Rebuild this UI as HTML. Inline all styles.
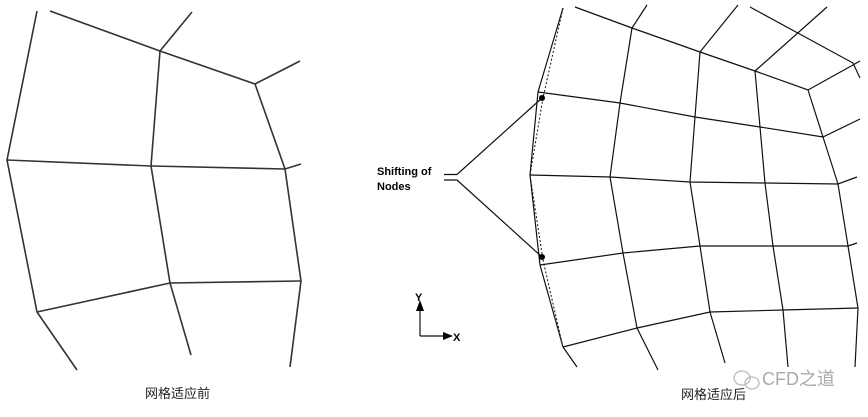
<!DOCTYPE html>
<html><head><meta charset="utf-8"><style>
html,body{margin:0;padding:0;background:#fff;}
svg{display:block}
</style></head><body>
<svg width="868" height="417" viewBox="0 0 868 417" xmlns="http://www.w3.org/2000/svg" font-family="Liberation Sans, Noto Sans CJK SC, sans-serif">
<g stroke="#333" stroke-width="1.6" fill="none">
<polyline points="37,11 7,160 37,312 77,370"/>
<polyline points="50,11 160,51 255,84 300,61"/>
<polyline points="160,51 192,12"/>
<polyline points="160,51 151,166 170,283 191,355"/>
<polyline points="255,84 285,169 301,281 290,367"/>
<polyline points="7,160 151,166 285,169 301,164"/>
<polyline points="37,312 170,283 301,281"/>
</g>
<text x="145" y="398" font-size="13" fill="#222">网格适应前</text>

<g stroke="#111" stroke-width="1.2" fill="none">
<polyline points="563,8 538,92 530,175 540,265 563,347 577,367"/>
<polyline points="575,7 632,28 700,52 755,71 808,90 853,65 860,61"/>
<polyline points="750,7 853,63 860,78"/>
<polyline points="647,5 632,28"/>
<polyline points="738,5 700,52"/>
<polyline points="827,7 755,71"/>
<polyline points="538,92 620,103 695,117 760,127 823,137 860,119"/>
<polyline points="530,175 610,177 690,182 765,183 838,184 857,177"/>
<polyline points="540,265 623,253 700,246 773,246 848,246 857,243"/>
<polyline points="563,347 637,328 710,312 783,310 858,308"/>
<polyline points="632,28 620,103 610,177 623,253 637,328 658,370"/>
<polyline points="700,52 695,117 690,182 700,246 710,312 725,363"/>
<polyline points="755,71 760,127 765,183 773,246 783,310 788,367"/>
<polyline points="808,90 823,137 838,184 848,246 858,308 855,367"/>
<polyline points="563,8 543,98 530,175 543,260 562,343" stroke-dasharray="2,2" stroke-width="1"/>
<polyline points="444,174.5 457,174.5 542,98"/>
<polyline points="444,180 457,180 542,257"/>
<polyline points="420,336 420,308"/>
<polyline points="420,336 446,336"/>
</g>
<circle cx="542" cy="98" r="3" fill="#000"/>
<circle cx="542" cy="257" r="3" fill="#000"/>
<polygon points="420,300 416,311 424,311" fill="#000"/>
<polygon points="453,336 443,332 443,340" fill="#000"/>
<text x="415" y="301" font-size="11" font-weight="bold">Y</text>
<text x="453" y="341" font-size="11" font-weight="bold">X</text>
<text x="377" y="175" font-size="11" font-weight="bold">Shifting of</text>
<text x="377" y="190" font-size="11" font-weight="bold">Nodes</text>
<g fill="none" stroke="#bbb" stroke-width="1.3"><ellipse cx="742" cy="378" rx="8" ry="7"/><ellipse cx="752" cy="383" rx="7" ry="6"/></g>
<text x="762" y="385" font-size="18" fill="#aaa">CFD之道</text>
<text x="681" y="399" font-size="13" fill="#222">网格适应后</text>
</svg>
</body></html>
